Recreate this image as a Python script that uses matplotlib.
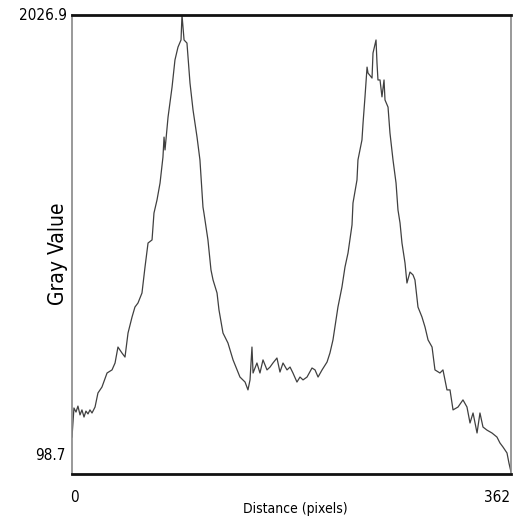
import matplotlib
matplotlib.use("Agg")
import matplotlib.pyplot as plt
from matplotlib import font_manager

# profile values
distance = [0, 1.6, 3.3, 4.9, 6.6, 8.2, 9.9, 11.5, 13.2, 14.8, 16.5, 19.0, 21.4, 24.7,
            28.9, 33.0, 35.5, 37.9, 41.2, 43.7, 46.2, 49.5, 51.9, 54.4, 57.7, 60.2,
            62.7, 66.0, 67.6, 70.1, 72.6, 75.0, 75.9, 76.7, 79.2, 82.5, 84.9, 87.4,
            89.9, 90.7, 92.4, 94.8, 97.3, 99.8, 103.1, 105.5, 108.0, 108.8, 112.1,
            114.6, 116.3, 119.6, 121.2, 124.5, 128.6, 132.8, 136.1, 138.5, 142.7,
            145.1, 146.8, 148.4, 149.3, 152.5, 155.0, 157.5, 160.8, 163.3, 165.7,
            169.0, 171.5, 174.0, 177.3, 179.8, 182.2, 185.5, 188.0, 190.5, 193.8,
            197.9, 200.4, 202.9, 206.2, 210.3, 212.7, 215.2, 217.7, 219.3, 222.6,
            225.1, 227.6, 230.9, 231.7, 235.0, 235.8, 239.1, 240.0, 241.6, 243.3,
            244.1, 247.4, 248.2, 250.7, 251.5, 252.3, 254.0, 255.6, 257.3, 258.1,
            260.6, 262.2, 264.7, 267.2, 268.8, 270.5, 272.1, 274.6, 276.2, 278.7,
            281.2, 282.8, 285.3, 288.6, 291.1, 293.6, 296.9, 299.3, 303.4, 305.9,
            309.2, 311.7, 314.2, 318.3, 322.4, 325.7, 328.2, 330.7, 334.0, 336.4,
            338.9, 342.2, 346.3, 350.4, 352.9, 355.4, 358.7, 360.3, 362]
gray = [254, 376, 359, 384, 347, 368, 338, 363, 351, 368, 355, 380, 439, 464,
        523, 536, 565, 632, 607, 590, 691, 758, 800, 817, 859, 968,
        1069, 1082, 1195, 1250, 1321, 1430, 1514, 1460, 1598, 1724, 1838, 1892,
        1922, 2026.9, 1922, 1909, 1741, 1628, 1514, 1418, 1220, 1195, 1082,
        956, 914, 859, 788, 691, 649, 578, 536, 506, 485,
        452, 494, 632, 523, 565, 523, 578, 536, 548, 565,
        586, 527, 565, 536, 548, 523, 485, 506, 494, 506,
        544, 536, 506, 536, 569, 607, 662, 746, 800, 884,
        968, 1027, 1145, 1237, 1334, 1418, 1502, 1573, 1683, 1808,
        1783, 1762, 1867, 1922, 1825, 1754, 1754, 1683, 1754, 1670,
        1640, 1531, 1418, 1321, 1208, 1153, 1069, 985, 901, 947,
        935, 914, 800, 758, 716, 662, 632, 536, 523, 536,
        452, 452, 368, 380, 410, 380, 313, 355, 271, 355,
        296, 283, 271, 254, 229, 212, 187, 145, 107]

x_min, x_max = 0, 362
y_min, y_max = 98.7, 2026.9

# pick a narrow face if one is there
names = {f.name for f in font_manager.fontManager.ttflist}
if 'Liberation Sans Narrow' in names:
    narrow = dict(family=['Liberation Sans Narrow', 'DejaVu Sans'])
else:
    narrow = dict(family=['DejaVu Sans'], fontstretch='condensed')

fig = plt.figure(figsize=(5.25, 5.25), dpi=100)
ax = fig.add_axes([72/525, 1 - 474/525, 439/525, 459/525])
ax.plot(distance, gray, color='#404040', lw=0.9)
ax.set_xlim(x_min, x_max)
ax.set_ylim(y_min, y_max)
ax.set_xticks([])
ax.set_yticks([])

for side in ['top', 'bottom']:
    ax.spines[side].set_linewidth(2.0)
    ax.spines[side].set_color('#111111')
for side in ['left', 'right']:
    ax.spines[side].set_linewidth(1.2)
    ax.spines[side].set_color('#888888')

# ImageJ style min/max labels
fig.text(67/525, 1 - 16/525, '2026.9', ha='right', va='center', fontsize=11, **narrow)
fig.text(66/525, 1 - 455/525, '98.7', ha='right', va='center', fontsize=11, **narrow)
fig.text(74/525, 1 - 497/525, '0', ha='center', va='center', fontsize=11, **narrow)
fig.text(497/525, 1 - 497/525, '362', ha='center', va='center', fontsize=11, **narrow)
fig.text(295/525, 1 - 509/525, 'Distance (pixels)', ha='center', va='center', fontsize=10, **narrow)
fig.text(58/525, 1 - 254/525, 'Gray Value', ha='center', va='center', rotation=90,
         fontsize=15, **narrow)

fig.savefig('out.png', dpi=100)
